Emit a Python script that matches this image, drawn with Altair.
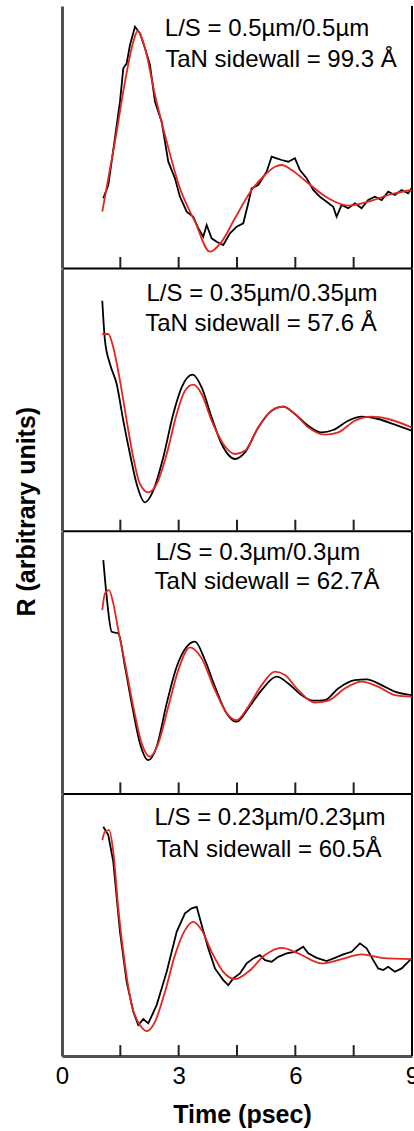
import altair as alt
import pandas as pd

FONT = "Liberation Sans, Arial, sans-serif"
H = 262
W = 350
SPACING = 0.7

tick_times = [1.5, 3.0, 4.5, 6.0, 7.5]
label_times = [0, 3, 6, 9]

# ---- Panel 1: L/S = 0.5um ----
p1_meas_t = [1.062, 1.190, 1.362, 1.491, 1.576, 1.663, 1.748, 1.877, 2.005, 2.134, 2.262, 2.391, 2.563, 2.733,
             2.905, 3.033, 3.206, 3.375, 3.504, 3.632, 3.720, 3.848, 3.977, 4.147, 4.319, 4.491, 4.661, 4.789,
             4.877, 5.046, 5.262, 5.391, 5.519, 5.648, 5.817, 5.990, 6.118, 6.290, 6.460, 6.632, 6.805, 6.974,
             7.062, 7.190, 7.360, 7.532, 7.704, 7.874, 8.046, 8.219, 8.388, 8.560, 8.733, 8.902, 8.990]
p1_meas_r = [69.7, 83, 130, 166.3, 199.7, 204.7, 223, 241.3, 234.7, 219.7, 203, 166.3, 146.3, 106.3,
             89.7, 71.3, 56.3, 51.3, 39.7, 31.3, 43, 29.7, 26.3, 23, 34.7, 41.3, 44.7, 64.7,
             79.7, 83, 96.3, 111.3, 109.7, 108, 106.3, 109.7, 98, 89.7, 78, 71.3, 66.3, 61.3,
             51.3, 63, 59.7, 64.7, 59.7, 68, 71.3, 68, 76.3, 73, 78, 74.7, 79.7]
p1_fit_t = [1.036, 1.362, 1.620, 1.833, 1.946, 2.134, 2.391, 2.692, 3.033, 3.419, 3.805, 4.105, 4.447, 4.877,
            5.219, 5.476, 5.648, 5.905, 6.332, 6.846, 7.360, 7.874, 8.388, 8.990]
p1_fit_r = [56.3, 126.3, 186.3, 226.3, 237, 219.7, 173, 126.3, 79.7, 46.3, 16.3, 26.3, 49.7, 78,
            93, 101.3, 103, 98, 84.7, 69.7, 62.3, 66.3, 73, 78]

# ---- Panel 2: L/S = 0.35um ----
p2_meas_t = [1.036, 1.105, 1.234, 1.406, 1.576, 1.748, 1.920, 2.134, 2.347, 2.604, 2.861, 3.077, 3.360, 3.591,
             3.848, 4.105, 4.447, 4.704, 5.046, 5.391, 5.689, 5.990, 6.332, 6.676, 6.974, 7.360, 7.704, 8.131,
             8.560, 8.990]
p2_meas_r = [230, 190, 166.7, 146.7, 110, 76.7, 46.7, 28.3, 40, 73.3, 116.7, 143.3, 156, 143.3,
             113.3, 86.7, 71.7, 78.3, 103.3, 120, 124, 116.7, 105, 98.3, 100.7, 110, 114, 111.7,
             106, 100]
p2_fit_t = [1.036, 1.190, 1.319, 1.491, 1.663, 1.833, 2.005, 2.219, 2.434, 2.692, 2.949, 3.162, 3.375, 3.591,
            3.848, 4.147, 4.447, 4.704, 5.046, 5.391, 5.689, 5.990, 6.332, 6.761, 7.103, 7.532, 7.961, 8.388,
            8.990]
p2_fit_r = [196.7, 196.7, 183.3, 150, 110, 73.3, 46.7, 38.3, 46.7, 76.7, 116.7, 140, 146, 136.7,
            110, 86.7, 76.7, 80, 103.3, 120, 124, 116.7, 103.3, 96, 98.3, 110, 114, 111.7,
            103.3]

# ---- Panel 3: L/S = 0.3um ----
p3_meas_t = [1.062, 1.149, 1.278, 1.447, 1.620, 1.792, 2.005, 2.219, 2.434, 2.692, 2.949, 3.206, 3.419, 3.676,
             3.933, 4.234, 4.491, 4.789, 5.134, 5.519, 5.817, 6.162, 6.460, 6.761, 7.103, 7.532, 7.833, 8.219,
             8.560, 8.990]
p3_meas_r = [233.3, 196.7, 161.7, 160, 126.7, 90, 50, 33.3, 46.7, 90, 126.7, 146.7, 151.7, 133.3,
             106.7, 80, 71.7, 85, 103.3, 116.7, 110, 98.3, 92.7, 93.3, 105, 113.3, 114, 108.3,
             101.7, 98.3]
p3_fit_t = [1.036, 1.105, 1.208, 1.319, 1.447, 1.620, 1.833, 2.049, 2.262, 2.476, 2.733, 2.990, 3.290, 3.591,
            3.933, 4.275, 4.491, 4.789, 5.134, 5.476, 5.733, 6.075, 6.504, 6.846, 7.275, 7.704, 8.131, 8.560,
            8.990]
p3_fit_r = [183.3, 200, 203.3, 190, 163.3, 130, 86.7, 50, 36.7, 50, 86.7, 123.3, 146, 135,
            103.3, 78.3, 73.3, 86.7, 108.3, 121.7, 118.3, 103.3, 90.7, 92.7, 105, 111.7, 106.7, 98.3,
            96.7]

# ---- Panel 4: L/S = 0.23um ----
p4_meas_t = [1.062, 1.190, 1.319, 1.491, 1.663, 1.833, 1.961, 2.090, 2.219, 2.434, 2.692, 2.949, 3.162, 3.334,
             3.463, 3.591, 3.761, 3.933, 4.147, 4.275, 4.404, 4.576, 4.748, 4.918, 5.090, 5.219, 5.391, 5.560,
             5.776, 5.990, 6.203, 6.332, 6.548, 6.805, 7.018, 7.231, 7.447, 7.661, 7.833, 8.003, 8.131, 8.260,
             8.388, 8.560, 8.733, 8.902, 8.990]
p4_meas_r = [229.3, 221, 194.3, 124.3, 74.3, 44.3, 31, 37, 32.7, 51, 84.3, 124.3, 142.7, 147.7,
             149.3, 131, 107.7, 87.7, 76, 71, 77.7, 82.7, 92.7, 97.7, 101, 96, 94.3, 99.3,
             102.7, 104.3, 109.3, 102.7, 98.3, 95, 98.3, 101.7, 104.3, 112.7, 107.7, 96, 87.7, 86,
             89.3, 84.3, 87.7, 94.3, 97.7]
p4_fit_t = [1.036, 1.105, 1.208, 1.319, 1.447, 1.620, 1.792, 2.005, 2.177, 2.391, 2.648, 2.905, 3.162, 3.375,
            3.591, 3.848, 4.147, 4.447, 4.789, 5.219, 5.648, 6.075, 6.676, 7.190, 7.704, 8.219, 8.990]
p4_fit_r = [216, 224.3, 226, 204.3, 147.7, 91, 51, 31, 25, 34.3, 64.3, 101, 126, 134.3,
            126, 104.3, 84.3, 77, 84.3, 101, 108.3, 102.7, 92.7, 97, 101.7, 98.3, 97]

line1 = ["L/S = 0.5\u00b5m/0.5\u00b5m", "L/S = 0.35\u00b5m/0.35\u00b5m",
         "L/S = 0.3\u00b5m/0.3\u00b5m", "L/S = 0.23\u00b5m/0.23\u00b5m"]
line2 = ["TaN sidewall = 99.3 \u00c5", "TaN sidewall = 57.6 \u00c5",
         "TaN sidewall = 62.7\u00c5", "TaN sidewall = 60.5\u00c5"]

# text placement (pixels within each panel)
l1_pos = [(205, 23), (200, 25), (196, 22), (208, 24)]
l2_pos = [(219, 54), (199, 55), (205, 51), (207, 56)]

meas_t = [p1_meas_t, p2_meas_t, p3_meas_t, p4_meas_t]
meas_r = [p1_meas_r, p2_meas_r, p3_meas_r, p4_meas_r]
fit_t = [p1_fit_t, p2_fit_t, p3_fit_t, p4_fit_t]
fit_r = [p1_fit_r, p2_fit_r, p3_fit_r, p4_fit_r]
meas_interp = ["linear", "monotone", "monotone", "linear"]

GRAY = "#505050"
RED = "#e3261f"


def panel(i):
    last = i == 3
    meas = pd.DataFrame({"t": meas_t[i], "R": meas_r[i]})
    fit = pd.DataFrame({"t": fit_t[i], "R": fit_r[i]})
    xscale = alt.Scale(domain=[0, 9], nice=False, zero=False)
    yscale = alt.Scale(domain=[0, H], nice=False, zero=False)
    if last:
        xaxis = alt.Axis(values=label_times, labels=True, ticks=False, grid=False,
                         title="Time (psec)", domainColor=GRAY, domainWidth=3,
                         labelFont=FONT, labelFontSize=24, labelColor="black", labelPadding=8,
                         labelFlush=False, titleFont=FONT, titleFontSize=25, titleFontWeight="bold",
                         titleColor="black", titlePadding=14, titleX=180)
    else:
        xaxis = alt.Axis(values=label_times, labels=False, ticks=False, grid=False, title=None,
                         domainColor="black", domainWidth=2)
    yaxis = alt.Axis(labels=False, ticks=False, grid=False, title=None,
                     domainColor=GRAY, domainWidth=3)

    black = alt.Chart(meas).mark_line(color="black", strokeWidth=1.8,
                                      interpolate=meas_interp[i]).encode(
        x=alt.X("t:Q", scale=xscale, axis=xaxis),
        y=alt.Y("R:Q", scale=yscale, axis=yaxis),
    )
    red = alt.Chart(fit).mark_line(color=RED, strokeWidth=1.8, interpolate="monotone").encode(
        x=alt.X("t:Q"), y=alt.Y("R:Q"))
    ticks = alt.Chart(pd.DataFrame({"t": tick_times})).mark_rule(
        color="#222", strokeWidth=2).encode(
        x=alt.X("t:Q"), y=alt.value(H), y2=alt.value(H - 11))
    right = alt.Chart(pd.DataFrame({"t": [9]})).mark_rule(
        color="black", strokeWidth=2).encode(
        x=alt.X("t:Q"), y=alt.value(0), y2=alt.value(H))
    t1 = alt.Chart(pd.DataFrame({"a": [0]})).mark_text(
        text=line1[i], font=FONT, fontSize=24, color="black", align="center", baseline="middle"
    ).encode(x=alt.value(l1_pos[i][0]), y=alt.value(l1_pos[i][1]))
    t2 = alt.Chart(pd.DataFrame({"a": [0]})).mark_text(
        text=line2[i], font=FONT, fontSize=24, color="black", align="center", baseline="middle"
    ).encode(x=alt.value(l2_pos[i][0]), y=alt.value(l2_pos[i][1]))
    layers = [black, ticks, right, red, t1, t2]
    if i == 1:
        ytitle = alt.Chart(pd.DataFrame({"a": [0]})).mark_text(
            text="R (arbitrary units)", font=FONT, fontSize=25, fontWeight="bold",
            color="black", angle=270, align="center", baseline="middle"
        ).encode(x=alt.value(-35), y=alt.value(243))
        layers.append(ytitle)
    return alt.layer(*layers).properties(width=W, height=H)


TOTAL_W = 414
TOTAL_H = 1130
LEFT = 62
TOP = 6

# With autosize "none" the page is width (=panel width) + padding wide and only padding tall.
chart = alt.vconcat(*[panel(i) for i in range(4)], spacing=SPACING, bounds="flush").properties(
    autosize=alt.AutoSizeParams(type="none"),
    padding={"left": LEFT, "top": TOP, "right": TOTAL_W - LEFT - W,
             "bottom": TOTAL_H - TOP},
).configure_view(stroke=None)

chart.save("out.html", embed_options={"renderer": "svg", "actions": False})
